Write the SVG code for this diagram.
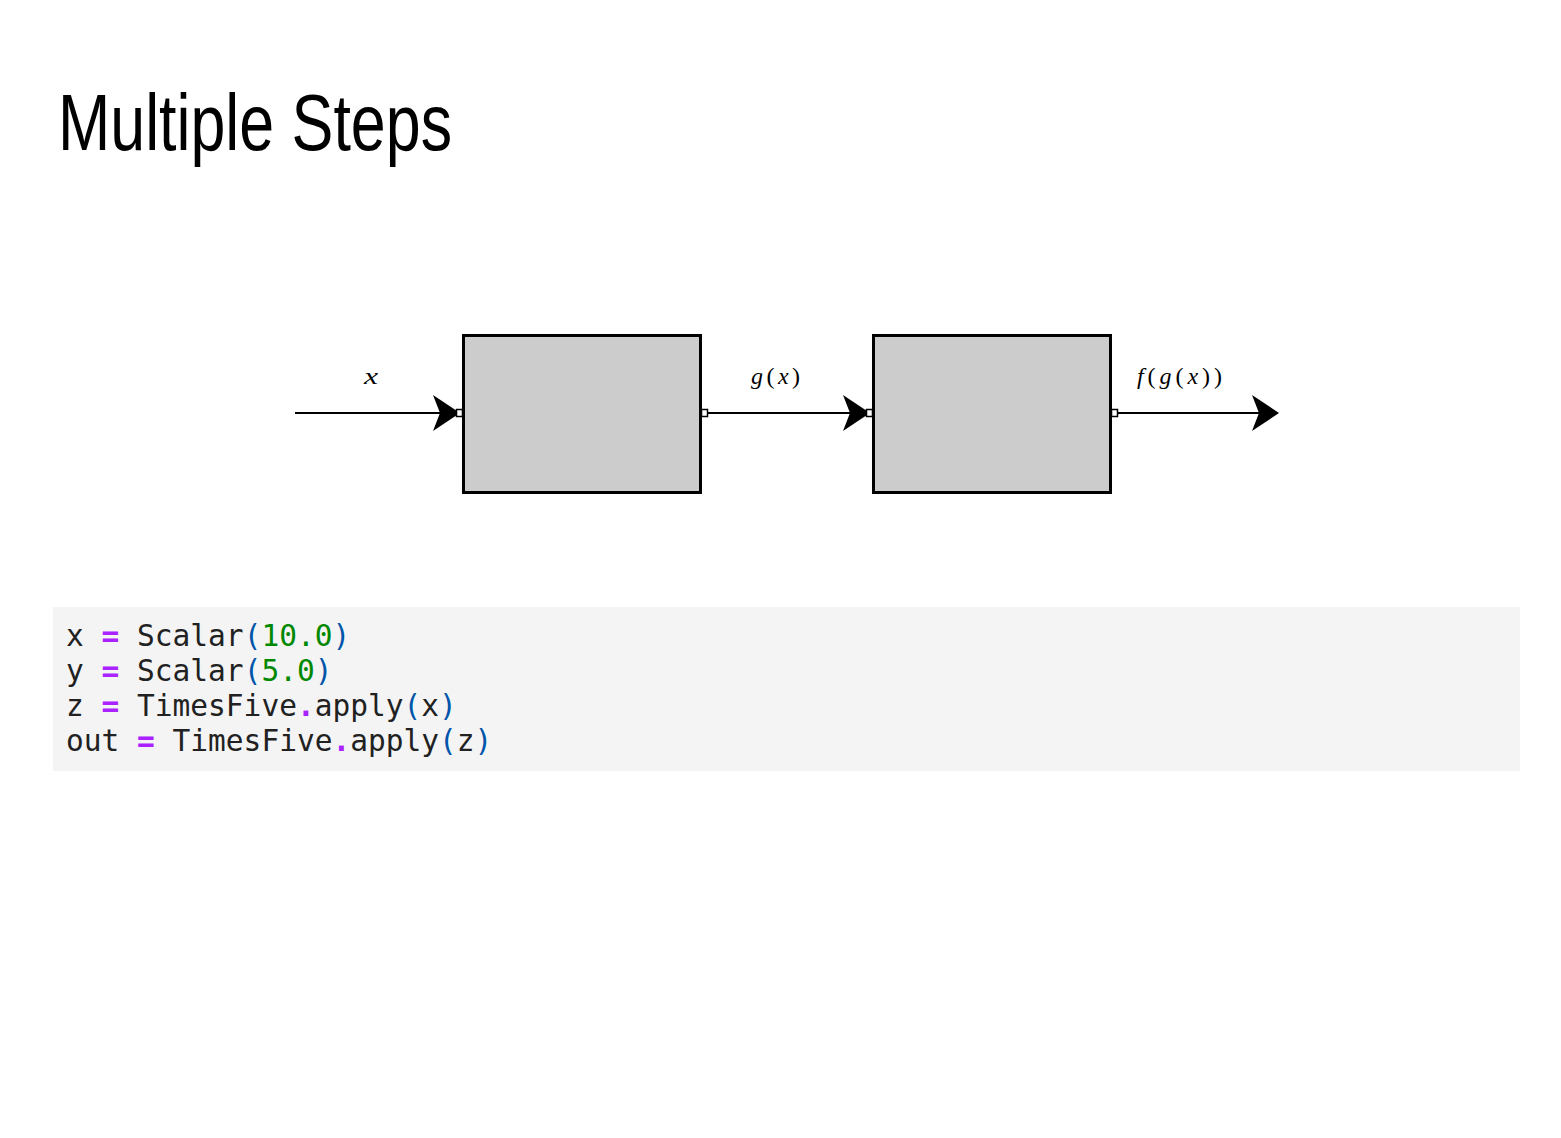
<svg xmlns="http://www.w3.org/2000/svg" width="1561" height="1138" viewBox="0 0 1561 1138">
<style>
.box{fill:#cccccc;stroke:#000;stroke-width:3}
.port{fill:#fff;stroke:#000;stroke-width:1.5}
.wire{stroke:#000;stroke-width:2;fill:none}
.lbl{font-family:"Liberation Serif","DejaVu Serif",serif;font-size:24px;fill:#000}
.it{font-style:italic}
.code{font-family:"DejaVu Sans Mono",monospace;font-size:29.5px;fill:#212121;white-space:pre}
.op{fill:#aa22ff;font-weight:bold}
.p{fill:#0055aa}
.n{fill:#008800}
</style>
<defs>
<path id="ah" d="M0,0 L-27,-18 L-20,0 L-27,18 Z" fill="#000"/>
</defs>
<rect width="1561" height="1138" fill="#fff"/>
<text x="58" y="150" font-family="Liberation Sans, Arial, sans-serif" font-size="80" textLength="394" lengthAdjust="spacingAndGlyphs" fill="#000">Multiple Steps</text>
<g id="connectors">
<line class="wire" x1="295" y1="413" x2="450" y2="413"/>
<use href="#ah" x="460" y="413"/>
<line class="wire" x1="708" y1="413" x2="860" y2="413"/>
<use href="#ah" x="870" y="413"/>
<line class="wire" x1="1118" y1="413" x2="1268" y2="413"/>
<use href="#ah" x="1279" y="413"/>
<text class="lbl it" x="364" y="384" textLength="14" lengthAdjust="spacingAndGlyphs">x</text>
<text class="lbl" x="751" y="384" textLength="49" lengthAdjust="spacing"><tspan class="it">g</tspan>(<tspan class="it">x</tspan>)</text>
<text class="lbl" x="1137" y="384" textLength="85" lengthAdjust="spacing"><tspan class="it">f</tspan>(<tspan class="it">g</tspan>(<tspan class="it">x</tspan>))</text>
</g>
<g id="step1">
<rect class="box" x="463.5" y="335.5" width="237" height="157"/>
<rect class="port" x="456.5" y="409.5" width="6" height="7"/>
<rect class="port" x="701.5" y="409.5" width="6" height="7"/>
</g>
<g id="step2">
<rect class="box" x="873.5" y="335.5" width="237" height="157"/>
<rect class="port" x="866.5" y="409.5" width="6" height="7"/>
<rect class="port" x="1111.5" y="409.5" width="6" height="7"/>
</g>
<g id="code">
<rect x="53" y="607" width="1467" height="164" fill="#f4f4f4"/>
<text class="code" x="66" y="646">x <tspan class="op">=</tspan> Scalar<tspan class="p">(</tspan><tspan class="n">10.0</tspan><tspan class="p">)</tspan></text>
<text class="code" x="66" y="681">y <tspan class="op">=</tspan> Scalar<tspan class="p">(</tspan><tspan class="n">5.0</tspan><tspan class="p">)</tspan></text>
<text class="code" x="66" y="716">z <tspan class="op">=</tspan> TimesFive<tspan class="op">.</tspan>apply<tspan class="p">(</tspan>x<tspan class="p">)</tspan></text>
<text class="code" x="66" y="751">out <tspan class="op">=</tspan> TimesFive<tspan class="op">.</tspan>apply<tspan class="p">(</tspan>z<tspan class="p">)</tspan></text>
</g>
</svg>
